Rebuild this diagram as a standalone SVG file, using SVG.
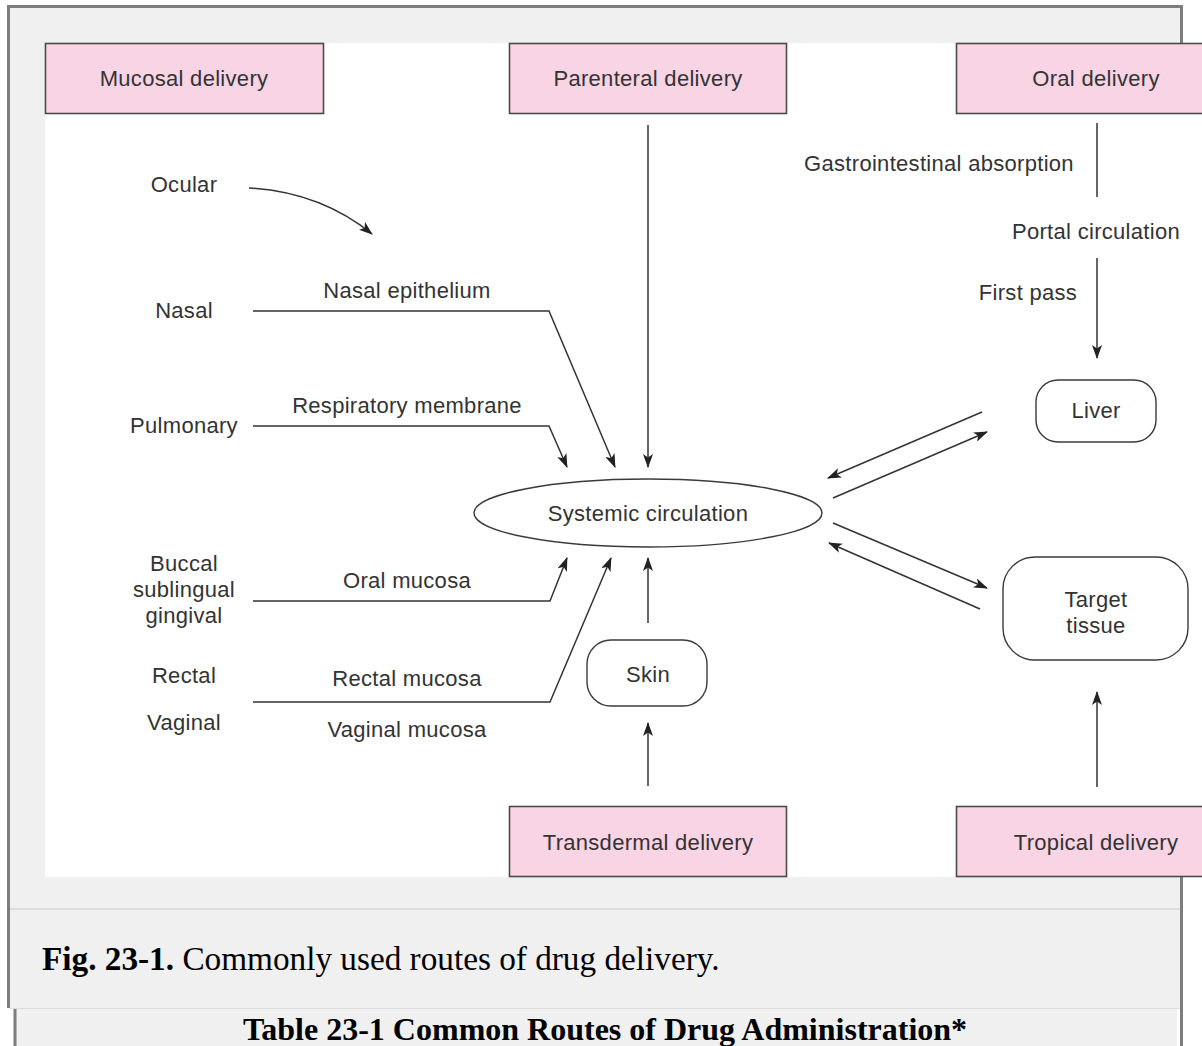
<svg xmlns="http://www.w3.org/2000/svg" width="1202" height="1046" viewBox="0 0 1202 1046">
  <defs>
    <marker id="arrow" viewBox="0 0 14 10" refX="13" refY="5" markerWidth="14" markerHeight="10" markerUnits="userSpaceOnUse" orient="auto">
      <path d="M0,0 L14,5 L0,10 L3.5,5 Z" fill="#222"/>
    </marker>
    <style>
      .lbl { font-family: "Liberation Sans", Arial, sans-serif; font-size: 22px; fill: #333; text-anchor: middle; letter-spacing: 0.3px; }
      .pink { fill: #f8d4e4; stroke: #4a4a4a; stroke-width: 1.6; }
      .round { fill: #fff; stroke: #3a3a3a; stroke-width: 1.4; }
      .conn { fill: none; stroke: #333; stroke-width: 1.5; }
      .arr { marker-end: url(#arrow); }
      .cap { font-family: "Liberation Serif", "Times New Roman", serif; font-size: 33.25px; fill: #000; }
      .head { font-family: "Liberation Serif", "Times New Roman", serif; font-size: 32px; font-weight: bold; fill: #000; text-anchor: middle; }
    </style>
  </defs>

  <!-- page -->
  <rect x="0" y="0" width="1202" height="1046" fill="#fff"/>

  <!-- figure frame -->
  <rect x="7" y="5" width="1176" height="1003" fill="#f0f0f0"/>
  <line x1="7" y1="6.5" x2="1183" y2="6.5" stroke="#7d7d7d" stroke-width="3"/>
  <line x1="8.5" y1="5" x2="8.5" y2="1008" stroke="#7d7d7d" stroke-width="3"/>
  <line x1="1181.5" y1="5" x2="1181.5" y2="1046" stroke="#7d7d7d" stroke-width="3"/>
  <line x1="10" y1="909" x2="1180" y2="909" stroke="#dcdcdc" stroke-width="2"/>
  <line x1="10" y1="1008.5" x2="1180" y2="1008.5" stroke="#dcdcdc" stroke-width="1"/>

  <!-- table heading strip -->
  <rect x="15" y="1009" width="1162" height="40" fill="#f0f0f0"/>
  <line x1="15" y1="1009" x2="15" y2="1046" stroke="#7d7d7d" stroke-width="3"/>

  <!-- figure drawing area -->
  <rect x="45" y="43" width="1157" height="834" fill="#fff"/>

  <!-- delivery route boxes -->
  <g id="mucosal-delivery">
    <rect class="pink" x="45.5" y="43.5" width="278" height="70"/>
    <text class="lbl" x="184" y="86">Mucosal delivery</text>
  </g>
  <g id="parenteral-delivery">
    <rect class="pink" x="509.5" y="43.5" width="277" height="70"/>
    <text class="lbl" x="648" y="86">Parenteral delivery</text>
  </g>
  <g id="oral-delivery">
    <rect class="pink" x="956.5" y="43.5" width="250" height="70"/>
    <text class="lbl" x="1096" y="86">Oral delivery</text>
  </g>
  <g id="transdermal-delivery">
    <rect class="pink" x="509.5" y="806.5" width="277" height="70"/>
    <text class="lbl" x="648" y="850">Transdermal delivery</text>
  </g>
  <g id="tropical-delivery">
    <rect class="pink" x="956.5" y="806.5" width="250" height="70"/>
    <text class="lbl" x="1096" y="850">Tropical delivery</text>
  </g>

  <!-- central and target nodes -->
  <g id="systemic-circulation">
    <ellipse cx="648" cy="513" rx="174" ry="34" fill="#fff" stroke="#3a3a3a" stroke-width="1.4"/>
    <text class="lbl" x="648" y="521">Systemic circulation</text>
  </g>
  <g id="liver">
    <rect class="round" x="1036" y="380" width="120" height="62" rx="22"/>
    <text class="lbl" x="1096" y="418">Liver</text>
  </g>
  <g id="target-tissue">
    <rect class="round" x="1003" y="557" width="185" height="103" rx="32"/>
    <text class="lbl" x="1096" y="607">Target</text>
    <text class="lbl" x="1096" y="633">tissue</text>
  </g>
  <g id="skin">
    <rect class="round" x="587" y="640" width="120" height="66" rx="24"/>
    <text class="lbl" x="648" y="682">Skin</text>
  </g>

  <!-- mucosal sites -->
  <g id="ocular"><text class="lbl" x="184" y="192">Ocular</text></g>
  <g id="nasal"><text class="lbl" x="184" y="318">Nasal</text></g>
  <g id="pulmonary"><text class="lbl" x="184" y="433">Pulmonary</text></g>
  <g id="buccal">
    <text class="lbl" x="184" y="571">Buccal</text>
    <text class="lbl" x="184" y="597">sublingual</text>
    <text class="lbl" x="184" y="623">gingival</text>
  </g>
  <g id="rectal"><text class="lbl" x="184" y="683">Rectal</text></g>
  <g id="vaginal"><text class="lbl" x="184" y="730">Vaginal</text></g>

  <!-- path labels -->
  <g id="path-labels">
    <text class="lbl" x="407" y="298">Nasal epithelium</text>
    <text class="lbl" x="407" y="413">Respiratory membrane</text>
    <text class="lbl" x="407" y="588">Oral mucosa</text>
    <text class="lbl" x="407" y="686">Rectal mucosa</text>
    <text class="lbl" x="407" y="737">Vaginal mucosa</text>
    <text class="lbl" x="939" y="171">Gastrointestinal absorption</text>
    <text class="lbl" x="1096" y="239">Portal circulation</text>
    <text class="lbl" x="1028" y="300">First pass</text>
  </g>

  <!-- connectors -->
  <g id="connectors">
    <path class="conn arr" d="M249,188 Q320,192 372,234"/>
    <path class="conn arr" d="M253,311 L549,311 L615,467"/>
    <path class="conn arr" d="M253,426 L549,426 L567,467"/>
    <path class="conn arr" d="M648,125 L648,467"/>
    <path class="conn arr" d="M253,601 L550,601 L567,558"/>
    <path class="conn arr" d="M253,702 L550,702 L611,558"/>
    <path class="conn arr" d="M648,623 L648,558"/>
    <path class="conn arr" d="M648,786 L648,723"/>
    <path class="conn" d="M1097,123 L1097,197"/>
    <path class="conn arr" d="M1097,258 L1097,358"/>
    <path class="conn arr" d="M982,412 L828,478"/>
    <path class="conn arr" d="M833,498 L987,432"/>
    <path class="conn arr" d="M833,523 L987,588"/>
    <path class="conn arr" d="M980,609 L829,543"/>
    <path class="conn arr" d="M1097,787 L1097,692"/>
  </g>

  <!-- caption and table heading -->
  <text class="cap" x="42" y="970"><tspan font-weight="bold">Fig. 23-1.</tspan> Commonly used routes of drug delivery.</text>
  <text class="head" x="605" y="1040">Table 23-1 Common Routes of Drug Administration*</text>
</svg>
